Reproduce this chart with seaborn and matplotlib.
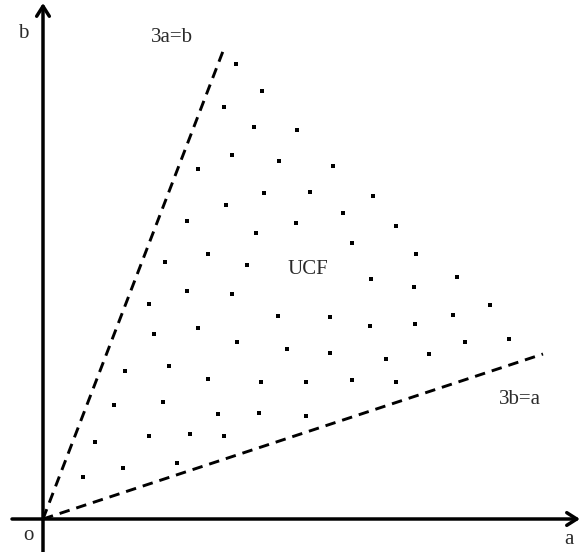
import numpy as np
import pandas as pd
import matplotlib
matplotlib.use('Agg')
import matplotlib.pyplot as plt
import seaborn as sns

sns.set_theme(style='white')
plt.rcParams['font.family'] = ['Liberation Serif', 'DejaVu Serif']

# 网格点 (a, b)
dot_a = [193, 219, 181, 211, 254, 189, 236, 155, 221, 183, 144, 213, 253, 165, 122, 204,
         290, 267, 330, 300, 353, 309, 373, 328, 414, 144, 189, 106, 235, 155, 111, 194,
         244, 126, 82, 165, 218, 120, 71, 175, 216, 106, 147, 181, 52, 134, 80, 40,
         371, 447, 410, 372, 327, 287, 287, 343, 386, 422, 466, 263, 309, 353, 263]
dot_b = [455, 428, 412, 392, 389, 364, 358, 350, 326, 314, 298, 286, 296, 265, 257, 254,
         353, 327, 323, 306, 293, 276, 265, 240, 242, 228, 225, 215, 203, 191, 185, 177,
         170, 153, 148, 140, 137, 117, 114, 105, 106, 83, 85, 83, 77, 56, 51, 42,
         232, 214, 204, 195, 193, 202, 166, 160, 165, 177, 180, 137, 139, 137, 103]

# 边界线 3a=b 和 3b=a
line1_a = [0, 182]
line1_b = [0, 473]
line2_a = [0, 500]
line2_b = [0, 165]

dots = pd.DataFrame({'a': dot_a, 'b': dot_b})

fig = plt.figure(figsize=(5.81, 5.52), dpi=100)
ax = fig.add_axes([0, 0, 1, 1])
ax.set_xlim(-43, 538)
ax.set_ylim(-33, 519)
ax.axis('off')

# 坐标轴箭头
arrow = dict(arrowstyle='->,head_length=0.6,head_width=0.38', lw=2.5, color='black',
             shrinkA=0, shrinkB=0)
ax.annotate('', xy=(537, 0), xytext=(-31, 0), arrowprops=arrow)
ax.annotate('', xy=(0, 516), xytext=(0, -33), arrowprops=arrow)

# 虚线
for la, lb in [(line1_a, line1_b), (line2_a, line2_b)]:
    sns.lineplot(x=la, y=lb, ax=ax, color='black', lw=2.1, sort=False,
                 dashes=False, linestyle=(0, (3.6, 2.4)))

sns.scatterplot(data=dots, x='a', y='b', ax=ax, marker='s', s=10, color='black',
                edgecolor='black', linewidth=0)

fs = 15
tc = '#2a2a2a'
ax.text(-20, 486, 'b', fontsize=fs, ha='center', va='center', color=tc)
ax.text(129, 481, '3a=b', fontsize=fs, ha='center', va='center', color=tc)
ax.text(265, 250, 'UCF', fontsize=fs, ha='center', va='center', color=tc)
ax.text(477, 120, '3b=a', fontsize=fs, ha='center', va='center', color=tc)
ax.text(-15, -16, 'o', fontsize=fs, ha='center', va='center', color=tc)
ax.text(526, -20, 'a', fontsize=fs, ha='center', va='center', color=tc)

plt.savefig('out.png', dpi=100)
